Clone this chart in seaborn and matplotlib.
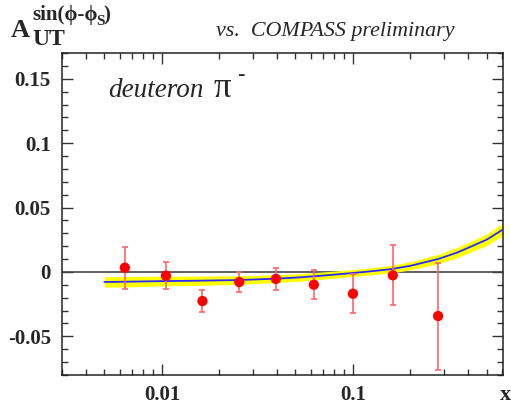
import numpy as np
import pandas as pd
import seaborn as sns
import matplotlib
matplotlib.use("Agg")
import matplotlib.pyplot as plt
from matplotlib.ticker import FixedLocator, NullFormatter, FixedFormatter

# Data points (COMPASS preliminary, deuteron pi-)
x_pts = [0.0064, 0.0105, 0.0163, 0.0254, 0.0395, 0.0624, 0.100, 0.1616, 0.279]
y_pts = [0.0033, -0.0029, -0.0226, -0.0078, -0.0054, -0.0099, -0.0169, -0.0026, -0.0342]
err_lo = [0.0163, 0.0101, 0.0083, 0.0078, 0.0089, 0.0109, 0.0150, 0.0234, 0.0418]
err_hi = [0.0161, 0.0107, 0.0088, 0.0075, 0.0082, 0.0117, 0.0153, 0.0233, 0.0412]

# Model curve and its uncertainty band
curve_x = [0.005, 0.007, 0.01, 0.015, 0.025, 0.04, 0.0525, 0.07, 0.1, 0.13,
           0.16, 0.2, 0.28, 0.35, 0.4, 0.5, 0.61]
curve_y = [-0.0078, -0.0075, -0.0071, -0.0068, -0.0063, -0.0052, -0.0042, -0.0028,
           -0.0008, 0.0008, 0.0023, 0.0048, 0.0101, 0.0150, 0.0187, 0.0250, 0.0330]
band_half = [0.0041, 0.0040, 0.0038, 0.0036, 0.0033, 0.0030, 0.0029, 0.0028,
             0.0027, 0.0028, 0.0030, 0.0032, 0.0036, 0.0040, 0.0042, 0.0045, 0.0048]

y_ticks = [-0.05, 0, 0.05, 0.1, 0.15]
y_labels = ["-0.05", "0", "0.05", "0.1", "0.15"]
x_ticks = [0.01, 0.1]
x_labels = ["0.01", "0.1"]

df = pd.DataFrame({"x": curve_x, "y": curve_y, "h": band_half})
pts = pd.DataFrame({"x": x_pts, "y": y_pts})

sns.set_theme(style="ticks")
plt.rcParams["font.family"] = ["Liberation Serif", "DejaVu Serif"]

W, H = 511, 405
fig = plt.figure(figsize=(W / 100, H / 100), dpi=100)
ax = fig.add_axes([62 / W, 1 - 375 / H, (503 - 62) / W, (375 - 53) / H])
ax.set_xscale("log")

ax.axhline(0, color="#444444", lw=1.2, zorder=1)
ax.fill_between(df["x"], df["y"] - df["h"], df["y"] + df["h"], color="#ffff00", lw=0, zorder=2)
sns.lineplot(data=df, x="x", y="y", ax=ax, color="#2a2aff", lw=1.3, zorder=3)

ax.errorbar(x_pts, y_pts, yerr=[err_lo, err_hi], fmt="none", ecolor="#ff6666",
            elinewidth=1.2, capsize=2, capthick=1.2, zorder=4)
sns.scatterplot(data=pts, x="x", y="y", ax=ax, color="#ff0000", s=55,
                edgecolor="none", zorder=5)

ax.set_xlim(0.003, 0.61)
ax.set_ylim(-0.08, 0.17)
ax.set_xlabel("")
ax.set_ylabel("")

minor_x = [m * 10.0 ** e for e in (-3, -2, -1) for m in range(2, 10)]
ax.xaxis.set_major_locator(FixedLocator(x_ticks))
ax.xaxis.set_major_formatter(FixedFormatter(x_labels))
ax.xaxis.set_minor_locator(FixedLocator(minor_x))
ax.xaxis.set_minor_formatter(NullFormatter())
ax.yaxis.set_major_locator(FixedLocator(y_ticks))
ax.yaxis.set_major_formatter(FixedFormatter(y_labels))
ax.yaxis.set_minor_locator(FixedLocator(np.round(np.arange(-0.08, 0.171, 0.01), 3)))

ax.tick_params(which="both", direction="in", top=True, right=True, color="#333333", width=1.0)
ax.tick_params(which="major", length=8)
ax.tick_params(which="minor", length=4.3)
ax.tick_params(axis="x", which="major", pad=7)
ax.tick_params(axis="y", which="major", pad=8)
for lab in ax.get_xticklabels() + ax.get_yticklabels():
    lab.set_fontsize(15)
    lab.set_fontweight("bold")
for sp in ax.spines.values():
    sp.set_color("#222222")
    sp.set_linewidth(1.1)


def ftext(x, y, s, **kw):
    fig.text(x / W, 1 - y / H, s, va="baseline", **kw)


# y-axis label pieces
ftext(11, 37, "A", fontsize=19, fontweight="bold")
ftext(32, 45, "UT", fontsize=17, fontweight="bold")
ftext(32, 20, "sin(ϕ-ϕ", fontsize=15, fontweight="bold")
ftext(96, 25, "S", fontsize=11, fontweight="bold")
ftext(103, 20, ")", fontsize=15, fontweight="bold")

ftext(216, 36, "vs.  COMPASS preliminary", fontsize=15.8, style="italic")
ftext(108, 97, "deuteron", fontsize=19.5, style="italic")
ftext(214, 97, "π", fontsize=25)
ftext(237, 80, "-", fontsize=16, fontweight="bold")
ftext(500, 400, "x", fontsize=16, fontweight="bold")

fig.savefig("out.png", dpi=100)
